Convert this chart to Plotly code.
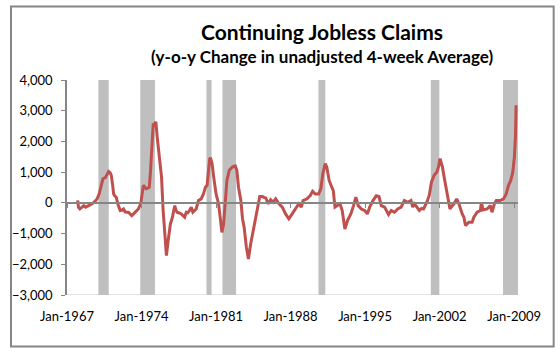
import plotly.graph_objects as go

# y-o-y change in unadjusted 4-week average of continuing claims (thousands)
years = [
    1968.00, 1968.08, 1968.21, 1968.40, 1968.58, 1968.75, 1968.89, 1969.10, 1969.36, 1969.60,
    1969.82, 1970.00, 1970.13, 1970.25, 1970.38, 1970.60, 1970.75, 1970.91, 1971.05, 1971.16,
    1971.28, 1971.38, 1971.50, 1971.62, 1971.80, 1972.00, 1972.15, 1972.31, 1972.45, 1972.55,
    1972.77, 1972.92, 1973.08, 1973.25, 1973.39, 1973.55, 1973.70, 1973.85, 1973.95, 1974.08,
    1974.17, 1974.30, 1974.42, 1974.60, 1974.73, 1974.85, 1974.94, 1975.03, 1975.10, 1975.22,
    1975.35, 1975.47, 1975.66, 1975.88, 1976.03, 1976.19, 1976.34, 1976.50, 1976.71, 1976.90,
    1977.12, 1977.25, 1977.34, 1977.55, 1977.74, 1977.90, 1978.05, 1978.20, 1978.35, 1978.51,
    1978.67, 1978.82, 1979.00, 1979.13, 1979.35, 1979.60, 1979.82, 1980.00, 1980.16, 1980.31,
    1980.40, 1980.47, 1980.63, 1980.78, 1981.00, 1981.24, 1981.40, 1981.55, 1981.71, 1981.87,
    1982.02, 1982.24, 1982.40, 1982.55, 1982.80, 1982.95, 1983.11, 1983.33, 1983.48, 1983.64,
    1983.85, 1984.04, 1984.25, 1984.57, 1984.88, 1985.10, 1985.34, 1985.50, 1985.66, 1985.91,
    1986.13, 1986.35, 1986.60, 1986.91, 1987.22, 1987.53, 1987.84, 1988.15, 1988.46, 1988.77,
    1989.01, 1989.17, 1989.54, 1989.85, 1990.07, 1990.32, 1990.63, 1990.84, 1991.03, 1991.25,
    1991.40, 1991.62, 1991.87, 1992.01, 1992.17, 1992.42, 1992.64, 1992.85, 1993.10, 1993.35,
    1993.66, 1993.91, 1994.13, 1994.35, 1994.65, 1994.96, 1995.21, 1995.43, 1995.74, 1996.05,
    1996.30, 1996.52, 1996.83, 1997.20, 1997.45, 1997.76, 1998.07, 1998.38, 1998.69, 1999.00,
    1999.31, 1999.47, 1999.62, 1999.87, 2000.09, 2000.30, 2000.49, 2000.80, 2001.02, 2001.23,
    2001.48, 2001.73, 2001.89, 2002.04, 2002.26, 2002.48, 2002.72, 2002.97, 2003.19, 2003.35,
    2003.60, 2003.81, 2004.12, 2004.28, 2004.43, 2004.74, 2005.05, 2005.21, 2005.52, 2005.83,
    2005.92, 2006.08, 2006.45, 2006.76, 2006.92, 2007.14, 2007.32, 2007.70, 2008.00, 2008.25,
    2008.47, 2008.68, 2008.87, 2009.02, 2009.12, 2009.18,
]
claims_change = [
    80, -150, -200, -130, -90, -140, -120, -80, -30, 40,
    130, 270, 460, 640, 785, 820, 900, 1020, 980, 890,
    600, 290, 220, 185, -60, -250, -240, -200, -290, -305,
    -305, -370, -415, -360, -305, -260, -200, -80, 20, 350,
    570, 520, 460, 480, 510, 1060, 1600, 2300, 2580, 2550,
    2640, 2150, 1600, 840, -250, -1230, -1720, -1230, -690, -470,
    -90, -250, -305, -330, -360, -420, -470, -305, -320, -250,
    -140, -305, -250, -200, 75, 130, 290, 510, 570, 1170,
    1430, 1470, 1275, 840, 290, -30, -630, -960, -690, 185,
    730, 1060, 1120, 1170, 1200, 1060, 510, 75, -500, -800,
    -1450, -1830, -1340, -690, -200, 205, 205, 180, 160, -30,
    100, 20, 130, -30, -140, -360, -520, -360, -200, -30,
    -140, 75, 130, 240, 380, 290, 290, 460, 950, 1275,
    1170, 730, 510, 400, -140, -90, -30, -250, -850, -580,
    -360, -90, 185, -90, -200, -250, -360, -140, 75, 230,
    205, -90, -140, -380, -250, -305, -200, -140, 75, 20,
    75, -140, -30, -140, -250, -180, -200, 20, 240, 675,
    895, 1000, 1170, 1440, 1170, 730, 290, -200, -90, -30,
    130, -30, -360, -470, -740, -630, -630, -470, -305, -250,
    20, -230, -200, -90, -305, -30, 75, 75, 130, 290,
    570, 730, 1000, 1490, 2150, 3180,
]

# NBER recessions (decimal years)
recession_start = [1969.95, 1973.88, 1980.10, 1981.60, 1990.62, 2001.17, 2007.95]
recession_end = [1970.92, 1975.26, 1980.58, 1982.88, 1991.26, 2001.97, 2009.36]

tick_years = [1967, 1974, 1981, 1988, 1995, 2002, 2009]
tick_labels = ["Jan-1967", "Jan-1974", "Jan-1981", "Jan-1988", "Jan-1995", "Jan-2002", "Jan-2009"]
y_ticks = [-3000, -2000, -1000, 0, 1000, 2000, 3000, 4000]

FONT = "Lato"
AXIS_GRAY = "#868686"

fig = go.Figure()
fig.add_trace(go.Scatter(
    x=years, y=claims_change, mode="lines",
    line=dict(color="#C0504D", width=3),
    showlegend=False, hoverinfo="skip",
))
# dummy trace for the zero-crossing axis
fig.add_trace(go.Scatter(x=[years[0]], y=[0], xaxis="x2", mode="markers",
                         marker=dict(opacity=0), showlegend=False, hoverinfo="skip"))

shapes = []
# bottom plot line at -3000
shapes.append(dict(type="line", xref="paper", yref="y", x0=0, x1=1, y0=-3000, y1=-3000,
                   line=dict(color="#C8C8C8", width=1), layer="below"))
for s, e in zip(recession_start, recession_end):
    shapes.append(dict(type="rect", xref="x", yref="y", x0=s, x1=e, y0=-3000, y1=4000,
                       fillcolor="#BFBFBF", line=dict(width=0), layer="below"))
# outer chart frame
shapes.append(dict(type="rect", xref="paper", yref="paper",
                   x0=-0.1242, x1=1.0791, y0=-0.2395, y1=1.3419,
                   line=dict(color=AXIS_GRAY, width=2), fillcolor="rgba(0,0,0,0)"))

fig.update_layout(
    width=560, height=355,
    margin=dict(l=63, r=42, t=80, b=60),
    paper_bgcolor="white", plot_bgcolor="white",
    font=dict(family=FONT, size=13, color="black"),
    shapes=shapes,
    xaxis=dict(
        range=[1967, 2009.36], tickvals=tick_years, ticktext=tick_labels,
        showgrid=False, zeroline=False, showline=False,
        ticks="outside", ticklen=9, tickcolor="rgba(0,0,0,0)",
        tickfont=dict(family=FONT, size=13, color="black"),
    ),
    xaxis2=dict(
        overlaying="x", matches="x", anchor="free", position=3000 / 7000,
        tickvals=tick_years, showticklabels=False, showgrid=False, zeroline=False,
        showline=True, linecolor=AXIS_GRAY, linewidth=1.5,
        ticks="outside", ticklen=4, tickcolor=AXIS_GRAY, tickwidth=1,
    ),
    yaxis=dict(
        range=[-3000, 4000], tickvals=y_ticks, tickformat=",d",
        showgrid=False, zeroline=False, showline=True, linecolor=AXIS_GRAY, linewidth=1.5,
        ticks="outside", ticklen=4, tickcolor=AXIS_GRAY,
        ticklabelstandoff=6,
        tickfont=dict(family=FONT, size=13, color="black"),
    ),
    annotations=[
        dict(text="<b>Continuing Jobless Claims</b>", xref="paper", yref="paper",
             x=0.5648, y=1.2233, xanchor="center", yanchor="middle", showarrow=False,
             font=dict(family=FONT, size=21, color="black")),
        dict(text="<b>(y-o-y Change in unadjusted 4-week Average)</b>", xref="paper", yref="paper",
             x=0.5648, y=1.1116, xanchor="center", yanchor="middle", showarrow=False,
             font=dict(family=FONT, size=17, color="black")),
    ],
)

fig.write_html(
    "out.html",
    config={"displayModeBar": False},
    post_script="document.body.style.margin='0';document.body.style.overflow='hidden';",
)
